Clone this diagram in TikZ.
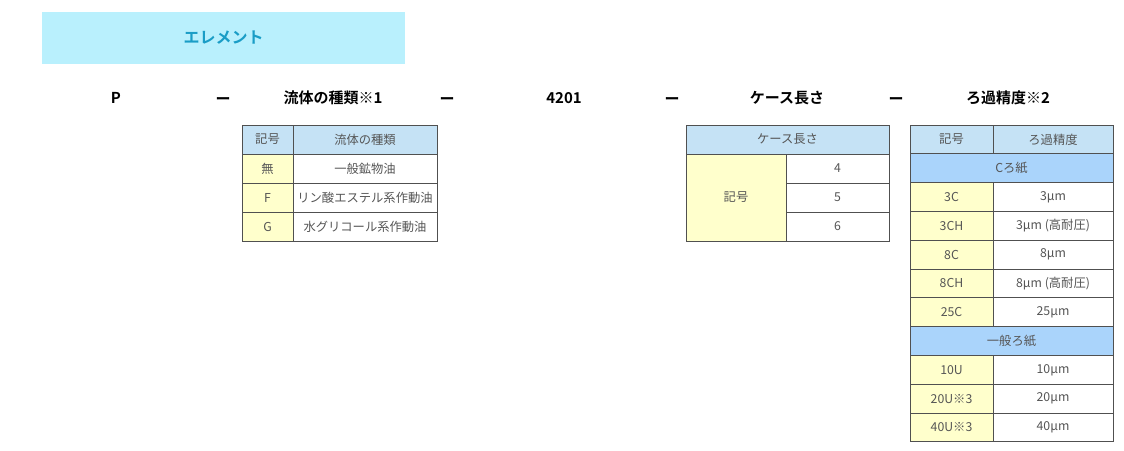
\documentclass[tikz,border=0pt]{standalone}
\usepackage{fontspec}
\setmainfont{Noto Sans CJK JP}[BoldFont={Noto Sans CJK JP Bold}]
\definecolor{hdcyan}{HTML}{B9F0FD}
\definecolor{hdtext}{HTML}{1A9DC6}
\definecolor{thblue}{HTML}{C5E2F5}
\definecolor{grpblue}{HTML}{AAD4FB}
\definecolor{symyel}{HTML}{FFFFCC}
\definecolor{cellline}{HTML}{505050}
\definecolor{celltext}{HTML}{555555}
\begin{document}
\begin{tikzpicture}[x=1pt,y=-1pt,
  cell/.style={draw=cellline,line width=0.9pt,rectangle,inner sep=0pt,
    minimum height=#1,text=celltext,font=\fontsize{12.3}{14}\selectfont},
  cell/.default=28.8pt,
  title/.style={font=\bfseries\fontsize{15}{18}\selectfont}]
\useasboundingbox (0,0) rectangle (1124,450);
% header
\node[fill=hdcyan,minimum width=363pt,minimum height=52pt,inner sep=0pt] (HD) at (223.5,38) {};
\node[text=hdtext,font=\bfseries\fontsize{16}{19}\selectfont] (HDT) at (HD) {エレメント};
% model code row
\node[title] (CP) at (116,98) {P};
\node[title] (D1) at (223,101) {ー};
\node[title] (CF) at (333,98) {流体の種類※1};
\node[title] (D2) at (447,101) {ー};
\node[title] (CN) at (564,98) {4201};
\node[title] (D3) at (672,101) {ー};
\node[title] (CL) at (787,98) {ケース長さ};
\node[title] (D4) at (896,101) {ー};
\node[title] (CR) at (1008,98) {ろ過精度※2};

% table 1: fluid
\node[cell=29pt,fill=thblue,minimum width=51pt] (FA0) at (267.5,139.5) {記号};
\node[cell=29pt,fill=thblue,minimum width=144pt] (FB0) at (365,139.5) {流体の種類};
\node[cell=29pt,fill=symyel,minimum width=51pt] (FA1) at (267.5,168.5) {無};
\node[cell=29pt,fill=white,minimum width=144pt] (FB1) at (365,168.5) {一般鉱物油};
\node[cell=29pt,fill=symyel,minimum width=51pt] (FA2) at (267.5,197.5) {F};
\node[cell=29pt,fill=white,minimum width=144pt] (FB2) at (365,197.5) {リン酸エステル系作動油};
\node[cell=29pt,fill=symyel,minimum width=51pt] (FA3) at (267.5,226.5) {G};
\node[cell=29pt,fill=white,minimum width=144pt] (FB3) at (365,226.5) {水グリコール系作動油};

% table 2: case length
\node[cell=29pt,fill=thblue,minimum width=203pt] (LH) at (787.5,139.5) {ケース長さ};
\node[cell=87pt,fill=symyel,minimum width=100pt] (LS) at (736,197.5) {記号};
\node[cell=29pt,fill=white,minimum width=103pt] (L1) at (837.5,168.5) {4};
\node[cell=29pt,fill=white,minimum width=103pt] (L2) at (837.5,197.5) {5};
\node[cell=29pt,fill=white,minimum width=103pt] (L3) at (837.5,226.5) {6};

% table 3: filtration
\node[cell,fill=thblue,minimum width=83pt] (RA0) at (951.5,139.4) {記号};
\node[cell,fill=thblue,minimum width=120pt] (RB0) at (1053,139.4) {ろ過精度};
\node[cell,fill=grpblue,minimum width=203pt] (RG1) at (1011.5,168.2) {Cろ紙};
\node[cell,fill=symyel,minimum width=83pt] (RA1) at (951.5,197.0) {3C};
\node[cell,fill=white,minimum width=120pt] (RB1) at (1053,197.0) {3µm};
\node[cell,fill=symyel,minimum width=83pt] (RA2) at (951.5,225.8) {3CH};
\node[cell,fill=white,minimum width=120pt] (RB2) at (1053,225.8) {3µm (高耐圧)};
\node[cell,fill=symyel,minimum width=83pt] (RA3) at (951.5,254.6) {8C};
\node[cell,fill=white,minimum width=120pt] (RB3) at (1053,254.6) {8µm};
\node[cell,fill=symyel,minimum width=83pt] (RA4) at (951.5,283.4) {8CH};
\node[cell,fill=white,minimum width=120pt] (RB4) at (1053,283.4) {8µm (高耐圧)};
\node[cell,fill=symyel,minimum width=83pt] (RA5) at (951.5,312.2) {25C};
\node[cell,fill=white,minimum width=120pt] (RB5) at (1053,312.2) {25µm};
\node[cell,fill=grpblue,minimum width=203pt] (RG2) at (1011.5,341.0) {一般ろ紙};
\node[cell,fill=symyel,minimum width=83pt] (RA6) at (951.5,369.8) {10U};
\node[cell,fill=white,minimum width=120pt] (RB6) at (1053,369.8) {10µm};
\node[cell,fill=symyel,minimum width=83pt] (RA7) at (951.5,398.6) {20U※3};
\node[cell,fill=white,minimum width=120pt] (RB7) at (1053,398.6) {20µm};
\node[cell,fill=symyel,minimum width=83pt] (RA8) at (951.5,427.4) {40U※3};
\node[cell,fill=white,minimum width=120pt] (RB8) at (1053,427.4) {40µm};
\end{tikzpicture}
\end{document}
